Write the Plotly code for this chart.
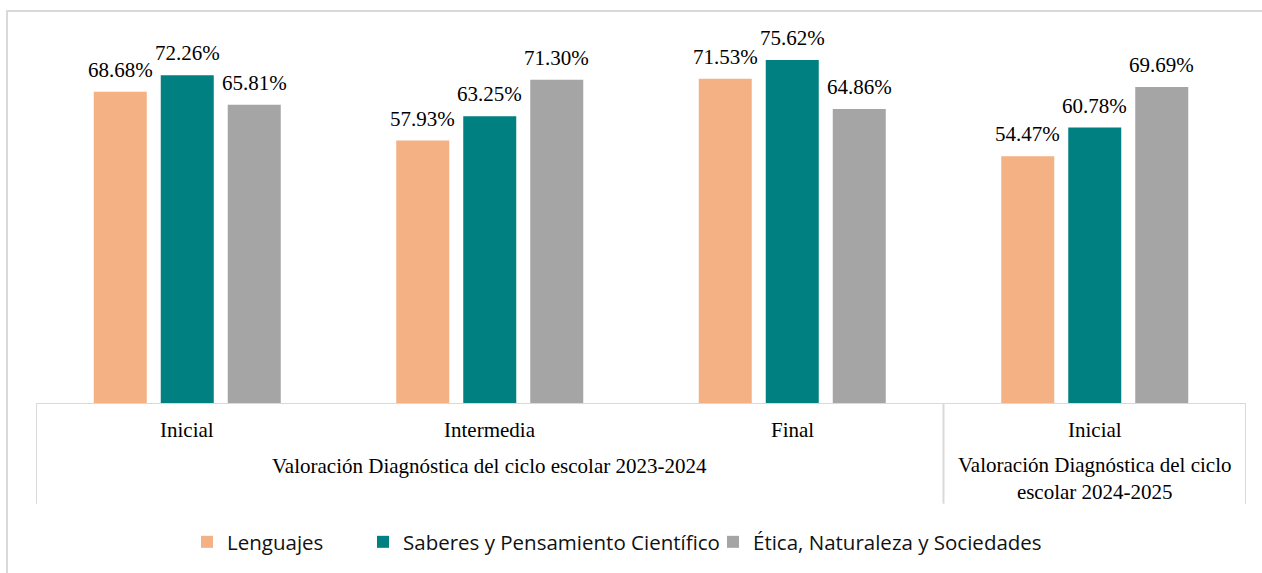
import plotly.graph_objects as go

categories = ["Inicial", "Intermedia", "Final", "Inicial"]
group_labels = ["Valoración Diagnóstica del ciclo escolar 2023-2024",
                "Valoración Diagnóstica del ciclo<br>escolar 2024-2025"]
series_names = ["Lenguajes", "Saberes y Pensamiento Científico", "Ética, Naturaleza y Sociedades"]
lenguajes = [68.68, 57.93, 71.53, 54.47]
saberes = [72.26, 63.25, 75.62, 60.78]
etica = [65.81, 71.30, 64.86, 69.69]
colors = ["#F4B183", "#008080", "#A5A5A5"]

W, H = 1262, 573
L, R, T, B = 36, 16, 20, 168
plot_h = H - T - B
plot_w = W - L - R
YMAX = plot_h / 4.56
BARGAP = 0.3355
BARGROUPGAP = 0.209

def py(px):  # pixel y -> paper y
    return (H - B - px) / plot_h

def pxx(px):  # pixel x -> paper x
    return (px - L) / plot_w

serif = dict(family="Liberation Serif", size=21, color="#000000")

xs = list(range(len(categories)))
all_series = [lenguajes, saberes, etica]
n = len(all_series)
slot = (1 - BARGAP) / n
legend_ids = ["legend", "legend2", "legend3"]
legend_text_x = [231, 407, 757]

fig = go.Figure()
annotations = []
for k, (name, vals, col) in enumerate(zip(series_names, all_series, colors)):
    fig.add_trace(go.Bar(
        x=xs, y=vals, name=name, marker=dict(color=col, line=dict(width=0)),
        legend=legend_ids[k],
    ))
    off = (k - (n - 1) / 2) * slot
    for xi, v in zip(xs, vals):
        annotations.append(dict(x=xi + off, y=v, xref="x", yref="y", text=f"{v:.2f}%",
                                showarrow=False, yanchor="bottom", yshift=8, font=serif))

shapes = []
# outer frame
shapes.append(dict(type="rect", xref="paper", yref="paper",
                   x0=pxx(7), x1=pxx(1275), y0=py(600), y1=py(11),
                   line=dict(color="#D9D9D9", width=2), fillcolor="rgba(0,0,0,0)", layer="below"))
# axis line
shapes.append(dict(type="line", xref="x", yref="y", x0=-0.5, x1=3.5, y0=0, y1=0,
                   line=dict(color="#D9D9D9", width=2)))
# dividers
for xv in [-0.5, 2.5, 3.5]:
    shapes.append(dict(type="line", xref="x", yref="paper", x0=xv, x1=xv, y0=py(405), y1=py(505),
                       line=dict(color="#D9D9D9", width=2)))

for i, c in enumerate(categories):
    annotations.append(dict(x=i, y=py(431), xref="x", yref="paper", text=c, showarrow=False,
                            yanchor="middle", font=serif))
annotations.append(dict(x=1, y=py(467), xref="x", yref="paper", text=group_labels[0], showarrow=False,
                        yanchor="middle", font=serif))
annotations.append(dict(x=3, y=py(480), xref="x", yref="paper", text=group_labels[1], showarrow=False,
                        yanchor="middle", font=serif))

legend_font = dict(family="Open Sans", size=20.5, color="#111111")
legends = {}
for lid, tx in zip(legend_ids, legend_text_x):
    legends[lid] = dict(orientation="h", x=pxx(tx - 44), xanchor="left", y=py(542), yanchor="middle",
                        font=legend_font, itemwidth=30, bgcolor="rgba(0,0,0,0)")

fig.update_layout(
    width=W, height=H,
    margin=dict(l=L, r=R, t=T, b=B),
    paper_bgcolor="white", plot_bgcolor="white",
    barmode="group", bargap=BARGAP, bargroupgap=BARGROUPGAP,
    xaxis=dict(range=[-0.5, 3.5], showticklabels=False, showgrid=False, zeroline=False, showline=False),
    yaxis=dict(range=[0, YMAX], visible=False),
    showlegend=True,
    shapes=shapes, annotations=annotations,
    **legends,
)
fig.write_html("out.html", config={"displayModeBar": False},
               post_script="document.body.style.margin='0';")
